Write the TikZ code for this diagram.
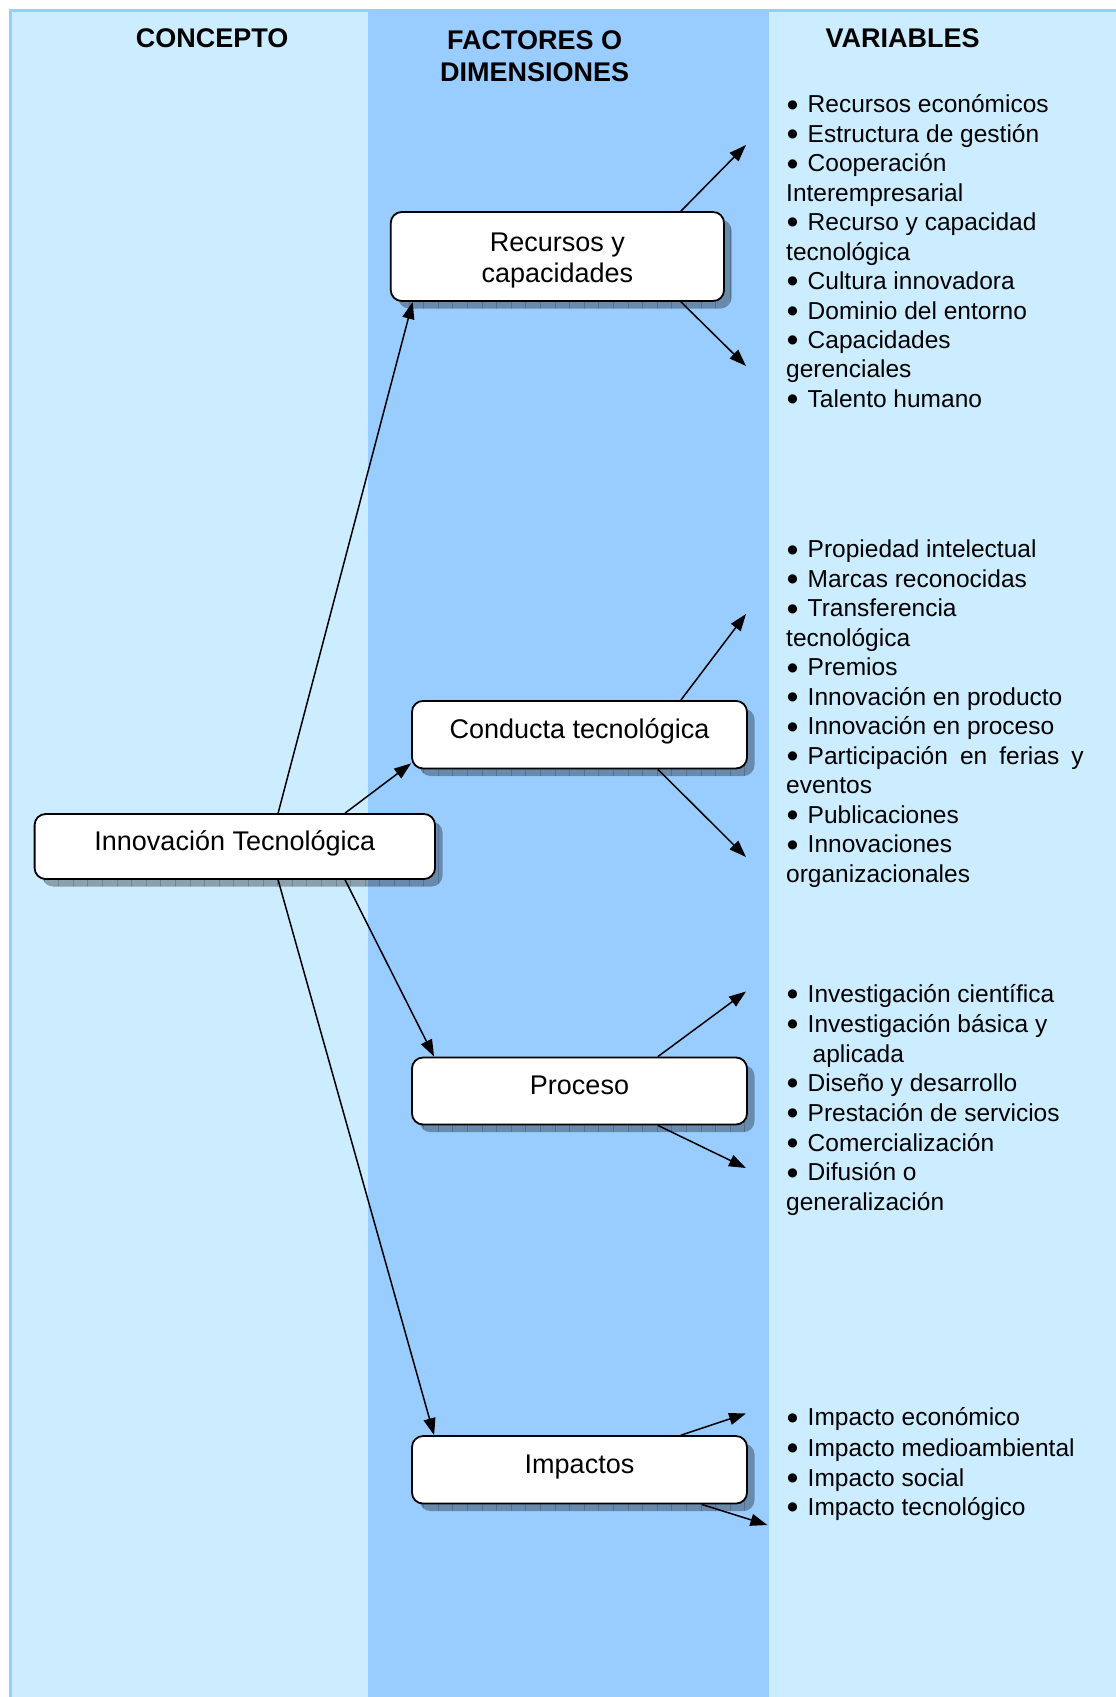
\documentclass[tikz,border=0pt]{standalone}
\usepackage{fontspec}
\setmainfont{Liberation Sans}
\newfontfamily\dejavu{DejaVu Sans}
\usetikzlibrary{arrows.meta,calc}
\definecolor{lightcol}{HTML}{CCECFF}
\definecolor{midcol}{HTML}{99CCFF}
\newcommand{\bul}{\makebox[21.5pt][l]{\hspace{1.2pt}\raisebox{4.8pt}{\dejavu\fontsize{12}{12}\selectfont ●}}}
\newcommand{\boxshadow}[4]{%
  \begin{scope}
    \path[clip, rounded corners=11pt] (#1+7.5,#2+7.5) rectangle (#3+7.5,#4+7.5);
    \fill[black, opacity=0.32] (#1,#2) rectangle (#3+10,#4+10);
    \draw[black, opacity=0.18, line width=0.6pt, step=14.6] (#1,#2) grid (#3+10,#4+10);
  \end{scope}}
\begin{document}
\begin{tikzpicture}[x=1pt,y=-1pt,
  box/.style={draw=black, line width=1.8pt, fill=white, rounded corners=11pt, inner sep=0pt,
    font=\fontsize{27}{30.3}\selectfont},
  conn/.style={line width=1.5pt, -{Triangle[length=17pt,width=12pt]}},
  hdr/.style={font=\fontsize{27}{31}\selectfont\bfseries, anchor=base, inner sep=0pt},
  var/.style={font=\fontsize{24.5}{29.5}\selectfont, anchor=base west, inner sep=0pt},
]
\useasboundingbox (0,0) rectangle (1116,1697);
% background columns
\fill[lightcol] (10,10) rectangle (1120,1700);
\fill[midcol] (368,11) rectangle (769,1700);
\draw[midcol, line width=2.4pt] (10.5,1700) -- (10.5,10.5) -- (1120,10.5);

% headers
\node[hdr] (h1) at (212.2,47.6) {CONCEPTO};
\node[hdr] (h2) at (534.7,49.7) {FACTORES O};
\node[hdr] (h3) at (534.7,81.1) {DIMENSIONES};
\node[hdr] (h4) at (902.7,47.6) {VARIABLES};

% shadows
\boxshadow{34.6}{814}{435}{879}
\boxshadow{390.7}{212}{724}{301}
\boxshadow{412}{701}{747}{768.5}
\boxshadow{412}{1057.5}{747}{1124.6}
\boxshadow{412}{1436}{747}{1503.5}

% boxes
\node[box, minimum width=400.4pt, minimum height=65pt] (inn) at (234.8,846.5)
  {\raisebox{-3.5pt}[0pt][0pt]{Innovación Tecnológica}};
\node[box, minimum width=333.3pt, minimum height=89pt] (rec) at (557.4,256.5)
  {\raisebox{-25.5pt}[0pt][0pt]{\begin{tabular}[b]{@{}c@{}}Recursos y\\capacidades\end{tabular}}};
\node[box, minimum width=335pt, minimum height=67.5pt] (con) at (579.5,734.7)
  {\raisebox{-3.5pt}[0pt][0pt]{Conducta tecnológica}};
\node[box, minimum width=335pt, minimum height=67pt] (pro) at (579.5,1091)
  {\raisebox{-3.5pt}[0pt][0pt]{Proceso}};
\node[box, minimum width=335pt, minimum height=67.5pt] (imp) at (579.5,1469.8)
  {\raisebox{-3.5pt}[0pt][0pt]{Impactos}};

% free ends
\coordinate (r1) at (746,145);
\coordinate (r2) at (746,366);
\coordinate (c1) at (746,614);
\coordinate (c2) at (746,857);
\coordinate (p1) at (746,991.5);
\coordinate (p2) at (746,1168);
\coordinate (i1) at (746,1413.5);
\coordinate (i2) at (767.4,1525);

% connectors
\draw[conn] ([xshift=244.4pt]inn.north west) -- ([xshift=22.8pt]rec.south west);
\draw[conn] ([xshift=311.4pt]inn.north west) -- ([yshift=6pt]con.south west);
\draw[conn] ([xshift=311.4pt]inn.south west) -- ([xshift=23pt]pro.north west);
\draw[conn] ([xshift=244.4pt]inn.south west) -- ([xshift=23pt]imp.north west);

\draw[conn] ([xshift=-44pt]rec.north east) -- (r1);
\draw[conn] ([xshift=-44pt]rec.south east) -- (r2);
\draw[conn] ([xshift=-67pt]con.north east) -- (c1);
\draw[conn] ([xshift=-90pt]con.south east) -- (c2);
\draw[conn] ([xshift=-90pt]pro.north east) -- (p1);
\draw[conn] ([xshift=-90pt]pro.south east) -- (p2);
\draw[conn] ([xshift=-67pt]imp.north east) -- (i1);
\draw[conn] ([xshift=-46pt]imp.south east) -- (i2);

% variables group 1
\node[var] (a1) at (786,112.9) {\bul Recursos económicos};
\node[var] (a2) at (786,142.3) {\bul Estructura de gestión};
\node[var] (a3) at (786,171.8) {\bul Cooperación};
\node[var] (a4) at (786,201.2) {Interempresarial};
\node[var] (a5) at (786,230.7) {\bul Recurso y capacidad};
\node[var] (a6) at (786,260.1) {tecnológica};
\node[var] (a7) at (786,289.5) {\bul Cultura innovadora};
\node[var] (a8) at (786,319.0) {\bul Dominio del entorno};
\node[var] (a9) at (786,348.4) {\bul Capacidades};
\node[var] (a10) at (786,377.9) {gerenciales};
\node[var] (a11) at (786,407.3) {\bul Talento humano};

% group 2
\node[var] (b1) at (786,557.8) {\bul Propiedad intelectual};
\node[var] (b2) at (786,587.3) {\bul Marcas reconocidas};
\node[var] (b3) at (786,616.8) {\bul Transferencia};
\node[var] (b4) at (786,646.3) {tecnológica};
\node[var] (b5) at (786,675.8) {\bul Premios};
\node[var] (b6) at (786,705.3) {\bul Innovación en producto};
\node[var] (b7) at (786,734.8) {\bul Innovación en proceso};
\node[var] (b8) at (786,764.3) {\bul\makebox[276pt][l]{Participación\hfill en\hfill ferias\hfill y}};
\node[var] (b9) at (786,793.8) {eventos};
\node[var] (b10) at (786,823.3) {\bul Publicaciones};
\node[var] (b11) at (786,852.8) {\bul Innovaciones};
\node[var] (b12) at (786,882.3) {organizacionales};

% group 3
\node[var] (d1) at (786,1002.6) {\bul Investigación científica};
\node[var] (d2) at (786,1032.3) {\bul Investigación básica y};
\node[var] (d3) at (812.5,1062.0) {aplicada};
\node[var] (d4) at (786,1091.7) {\bul Diseño y desarrollo};
\node[var] (d5) at (786,1121.4) {\bul Prestación de servicios};
\node[var] (d6) at (786,1151.1) {\bul Comercialización};
\node[var] (d7) at (786,1180.8) {\bul Difusión o};
\node[var] (d8) at (786,1210.5) {generalización};

% group 4
\node[var] (e1) at (786,1425.9) {\bul Impacto económico};
\node[var] (e2) at (786,1456.2) {\bul Impacto medioambiental};
\node[var] (e3) at (786,1486.5) {\bul Impacto social};
\node[var] (e4) at (786,1515.7) {\bul Impacto tecnológico};
\end{tikzpicture}
\end{document}
